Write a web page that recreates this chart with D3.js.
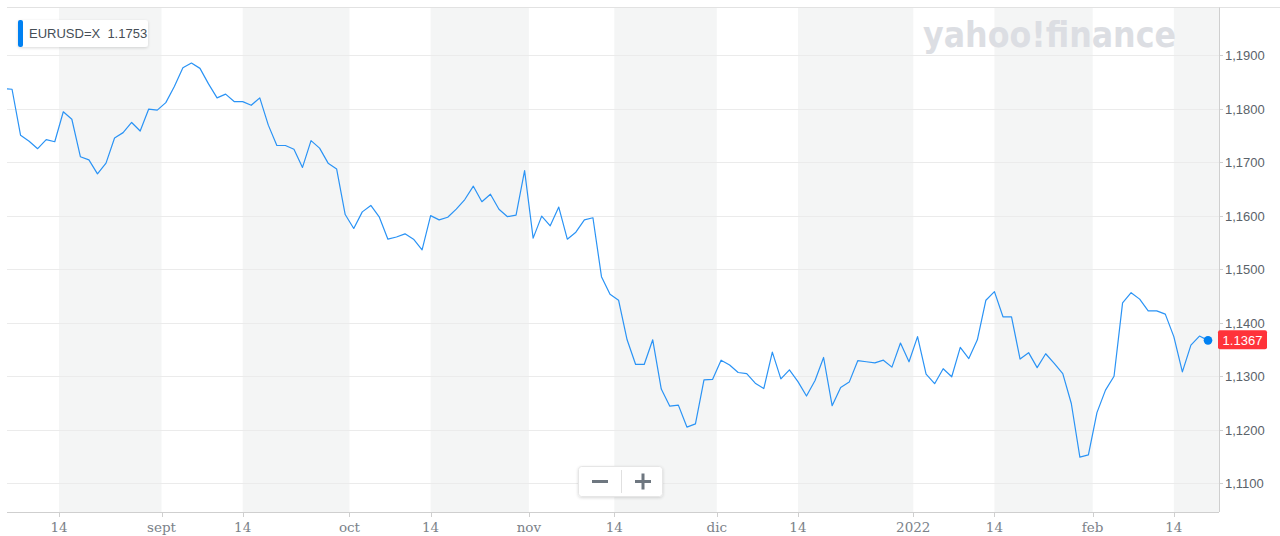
<!DOCTYPE html>
<html><head><meta charset="utf-8">
<script src="https://cdn.jsdelivr.net/npm/d3@7"></script>
<style>html,body{margin:0;padding:0;background:#fff;overflow:hidden}svg{display:block}</style>
</head><body><svg id="chart" width="1280" height="536"></svg>
<script>
// ---- data ----
const symbol = "EURUSD=X";
const prevClose = "1.1753";
const lastLabel = "1.1367";
const startDate = "2021-08-05"; // first trading day (weekdays only)
const values = [
  1.1837,
  1.1836,1.1750,1.1739,1.1725,1.1742,1.1738,1.1794,1.1780,1.1710,1.1704,
  1.1678,1.1698,1.1745,1.1755,1.1774,1.1758,1.1799,1.1797,1.1811,1.1841,
  1.1876,1.1885,1.1875,1.1846,1.1820,1.1827,1.1813,1.1813,1.1806,1.1820,
  1.1769,1.1731,1.1731,1.1724,1.1690,1.1740,1.1726,1.1698,1.1687,1.1602,
  1.1576,1.1607,1.1619,1.1597,1.1556,1.1560,1.1566,1.1556,1.1536,1.1600,
  1.1592,1.1597,1.1612,1.1630,1.1655,1.1626,1.1640,1.1612,1.1598,1.1601,
  1.1684,1.1558,1.1599,1.1581,1.1616,1.1556,1.1569,1.1592,1.1596,1.1486,
  1.1453,1.1442,1.1368,1.1322,1.1322,1.1368,1.1276,1.1244,1.1246,1.1205,
  1.1211,1.1293,1.1294,1.1330,1.1321,1.1307,1.1305,1.1287,1.1277,1.1345,
  1.1295,1.1312,1.1290,1.1263,1.1292,1.1335,1.1245,1.1279,1.1289,1.1329,
  1.1327,1.1325,1.1330,1.1317,1.1362,1.1327,1.1374,1.1304,1.1286,1.1314,
  1.1299,1.1354,1.1333,1.1368,1.1442,1.1458,1.1411,1.1411,1.1332,1.1344,
  1.1316,1.1342,1.1324,1.1305,1.1249,1.1149,1.1153,1.1232,1.1274,1.1300,
  1.1437,1.1456,1.1444,1.1422,1.1422,1.1416,1.1374,1.1308,1.1358,1.1375,
  1.1367
];
const yTicks = [1.11,1.12,1.13,1.14,1.15,1.16,1.17,1.18,1.19];
const tickDates = ["2021-08-14","2021-09-01","2021-09-14","2021-10-01","2021-10-14","2021-11-01",
  "2021-11-14","2021-12-01","2021-12-14","2022-01-01","2022-01-14","2022-02-01","2022-02-14"];
const tickLabels = ["14","sept","14","oct","14","nov","14","dic","14","2022","14","feb","14"];

// ---- trading-day calendar ----
const dates = [];
{
  let d = new Date(startDate + "T00:00:00Z");
  while (dates.length < values.length) {
    const wd = d.getUTCDay();
    if (wd !== 0 && wd !== 6) dates.push(new Date(d));
    d = new Date(d.getTime() + 86400000);
  }
}
const data = values.map((v, i) => ({i, date: dates[i], v}));

// ---- layout ----
const W = 1280, H = 536;
const L = 7, R = 1219, T = 7.5, B = 512;
const svg = d3.select("#chart");

const x = d3.scaleLinear().domain([0, values.length - 1]).range([3.5, 1208]);
const y = d3.scaleLinear().domain([1.11 - 28.7/5354, 1.19 + 47.5/5354]).range([B, T]);

// tick positions on the trading-day scale
const tickPos = tickDates.map(s => {
  const td = new Date(s + "T00:00:00Z");
  const idx = dates.findIndex(d => d >= td);
  const wd = td.getUTCDay();
  const off = (wd === 0 || wd === 6 || td.getUTCDate() === 1) ? 0.5 : 0;
  return x(idx - off);
});

// defs
const defs = svg.append("defs");
defs.append("clipPath").attr("id","plotclip").append("rect")
  .attr("x", L).attr("y", T).attr("width", R - L).attr("height", B - T);
const f = defs.append("filter").attr("id","shadow").attr("x","-20%").attr("y","-40%").attr("width","140%").attr("height","180%");
f.append("feDropShadow").attr("dx",0).attr("dy",1).attr("stdDeviation",1.5).attr("flood-color","#000").attr("flood-opacity",0.15);

// alternating bands
const bands = [];
for (let k = 0; k < tickPos.length; k += 2) {
  bands.push([tickPos[k], k + 1 < tickPos.length ? tickPos[k + 1] : R]);
}
svg.append("g").selectAll("rect").data(bands).join("rect")
  .attr("x", d => d[0]).attr("y", T).attr("width", d => d[1] - d[0]).attr("height", B - T)
  .attr("fill", "#f4f5f5");

// horizontal grid
svg.append("g").selectAll("line").data(yTicks).join("line")
  .attr("x1", L).attr("x2", R)
  .attr("y1", d => Math.round(y(d)) + 0.5).attr("y2", d => Math.round(y(d)) + 0.5)
  .attr("stroke", "#ebebeb").attr("stroke-width", 1);

// frame lines
svg.append("line").attr("x1", L).attr("x2", W).attr("y1", T).attr("y2", T)
  .attr("stroke", "#e2e2e2");
svg.append("line").attr("x1", R + 0.5).attr("x2", R + 0.5).attr("y1", T).attr("y2", B)
  .attr("stroke", "#cfcfcf");
svg.append("line").attr("x1", L).attr("x2", R).attr("y1", B + 0.5).attr("y2", B + 0.5)
  .attr("stroke", "#cfcfcf");

// watermark
svg.append("text")
  .attr("x", 923).attr("y", 47)
  .attr("textLength", 253).attr("lengthAdjust", "spacingAndGlyphs")
  .attr("font-family", "'DejaVu Sans', sans-serif").attr("font-weight", "bold")
  .attr("font-size", 35).attr("fill", "#dcdee3")
  .text("yahoo!finance");

// right axis
const yAxis = svg.append("g");
yAxis.selectAll("line").data(yTicks).join("line")
  .attr("x1", R).attr("x2", R + 4)
  .attr("y1", d => Math.round(y(d)) + 0.5).attr("y2", d => Math.round(y(d)) + 0.5)
  .attr("stroke", "#cfcfcf");
yAxis.selectAll("text").data(yTicks).join("text")
  .attr("x", R + 6).attr("y", d => y(d) + 5)
  .attr("font-family", "'Liberation Sans', Arial, sans-serif").attr("font-size", 13)
  .attr("fill", "#5b636a")
  .text(d => d3.format(".4f")(d).replace(".", ","));

// bottom axis
const xAxis = svg.append("g");
xAxis.selectAll("line").data(tickPos).join("line")
  .attr("x1", d => Math.round(d) + 0.5).attr("x2", d => Math.round(d) + 0.5)
  .attr("y1", B).attr("y2", B + 5).attr("stroke", "#cfcfcf");
xAxis.selectAll("text").data(tickLabels).join("text")
  .attr("x", (d, k) => tickPos[k]).attr("y", 532)
  .attr("text-anchor", "middle")
  .attr("font-family", "'DejaVu Serif', serif").attr("font-size", 13.5)
  .attr("fill", "#7b8289")
  .text(d => d);

// price line
const line = d3.line().x(d => x(d.i)).y(d => y(d.v));
svg.append("path").datum(data)
  .attr("clip-path", "url(#plotclip)")
  .attr("d", line).attr("fill", "none")
  .attr("stroke", "#2a93f5").attr("stroke-width", 1.2).attr("stroke-linejoin", "round");

// last point
const last = data[data.length - 1];
svg.append("circle").attr("cx", x(last.i)).attr("cy", y(last.v)).attr("r", 4.3).attr("fill", "#0081f2");
const py = y(last.v);
svg.append("rect").attr("x", R - 1).attr("y", py - 10).attr("width", 49).attr("height", 19)
  .attr("rx", 2).attr("fill", "#ff333a");
svg.append("text").attr("x", R + 23.5).attr("y", py + 4.5).attr("text-anchor", "middle")
  .attr("font-family", "'Liberation Sans', Arial, sans-serif").attr("font-size", 13)
  .attr("fill", "#fff").text(lastLabel);

// legend
const lg = svg.append("g");
lg.append("rect").attr("x", 18).attr("y", 20).attr("width", 130).attr("height", 27)
  .attr("rx", 3).attr("fill", "#fff").attr("filter", "url(#shadow)");
lg.append("rect").attr("x", 18).attr("y", 20).attr("width", 5).attr("height", 27)
  .attr("rx", 2).attr("fill", "#0081f2");
lg.append("text").attr("x", 29).attr("y", 38)
  .attr("font-family", "'Liberation Sans', Arial, sans-serif").attr("font-size", 13)
  .attr("fill", "#464e56")
  .text(symbol + "\u00a0\u00a0" + prevClose);

// zoom control
const zc = svg.append("g");
zc.append("rect").attr("x", 578.5).attr("y", 466.5).attr("width", 84).attr("height", 30)
  .attr("rx", 3).attr("fill", "#fff").attr("stroke", "#e6e6e6").attr("filter", "url(#shadow)");
zc.append("line").attr("x1", 621.5).attr("x2", 621.5).attr("y1", 470).attr("y2", 493).attr("stroke", "#e0e0e0");
zc.append("rect").attr("x", 592).attr("y", 480).attr("width", 16).attr("height", 3).attr("fill", "#6e7780");
zc.append("rect").attr("x", 635).attr("y", 480).attr("width", 16).attr("height", 3).attr("fill", "#6e7780");
zc.append("rect").attr("x", 641.5).attr("y", 473.5).attr("width", 3).attr("height", 16).attr("fill", "#6e7780");
</script></body></html>
